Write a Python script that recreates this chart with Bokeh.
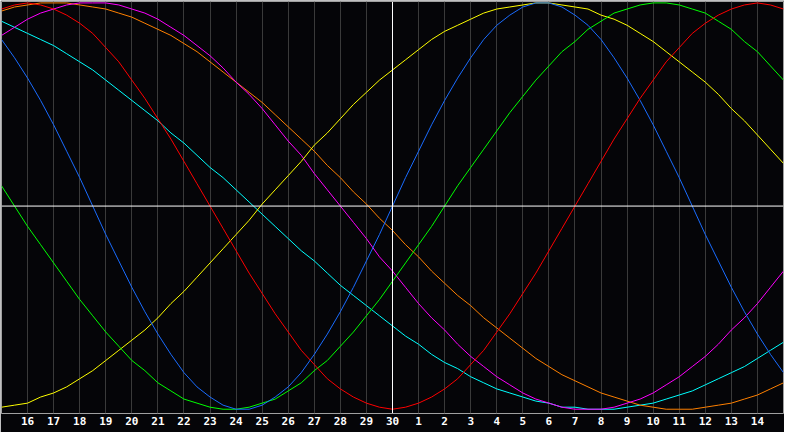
from bokeh.plotting import figure
from bokeh.models import Range1d, FixedTicker, Span
from bokeh.embed import file_html
from bokeh.resources import INLINE

# day labels for day positions 0..30 (15th of one month to 15th of the next)
day_labels = ["15", "16", "17", "18", "19", "20", "21", "22", "23", "24", "25", "26", "27", "28", "29", "30",
              "1", "2", "3", "4", "5", "6", "7", "8", "9", "10", "11", "12", "13", "14", "15"]
tick_positions = list(range(1, 30))
today_pos = 15
# values are read every half day
day_index = [i / 2 for i in range(61)]

# biorhythm values in percent (every half day)
physical = [82, 73, 63, 52, 40, 27, 14, 0, -14, -27, -40, -52, -63, -73, -82, -89, -94, -98, -100, -100,
            -98, -94, -89, -82, -73, -63, -52, -40, -27, -14, 0, 14, 27, 40, 52, 63, 73, 82, 89, 94,
            98, 100, 100, 98, 94, 89, 82, 73, 63, 52, 40, 27, 14, 0, -14, -27, -40, -52, -63, -73, -82]
emotional = [97, 99, 100, 99, 97, 94, 90, 85, 78, 71, 62, 53, 43, 33, 22, 11, 0, -11, -22, -33,
             -43, -53, -62, -71, -78, -85, -90, -94, -97, -99, -100, -99, -97, -94, -90, -85, -78, -71, -62, -53,
             -43, -33, -22, -11, 0, 11, 22, 33, 43, 53, 62, 71, 78, 85, 90, 94, 97, 99, 100, 99, 97]
intellectual = [10, 0, -10, -19, -28, -37, -46, -54, -62, -69, -76, -81, -87, -91, -95, -97, -99, -100, -100, -99,
                -97, -95, -91, -87, -81, -76, -69, -62, -54, -46, -37, -28, -19, -10, 0, 10, 19, 28, 37, 46,
                54, 62, 69, 76, 81, 87, 91, 95, 97, 99, 100, 100, 99, 97, 95, 91, 87, 81, 76, 69, 62]
intuitive = [84, 88, 92, 95, 97, 99, 100, 100, 100, 99, 97, 95, 92, 88, 84, 79, 74, 68, 61, 55,
             48, 40, 32, 25, 16, 8, 0, -8, -16, -25, -32, -40, -48, -55, -61, -68, -74, -79, -84, -88,
             -92, -95, -97, -99, -100, -100, -100, -99, -97, -95, -92, -88, -84, -79, -74, -68, -61, -55, -48, -40, -32]
aesthetic = [-99, -98, -97, -94, -92, -89, -85, -81, -76, -71, -66, -61, -55, -48, -42, -35, -28, -21, -14, -7,
             1, 8, 15, 22, 30, 36, 43, 50, 56, 62, 67, 72, 77, 82, 86, 89, 92, 95, 97, 98,
             99, 100, 100, 99, 98, 97, 94, 92, 89, 85, 81, 76, 71, 66, 61, 55, 48, 42, 35, 28, 21]
awareness = [96, 98, 99, 100, 100, 100, 99, 98, 97, 95, 93, 90, 87, 84, 80, 76, 71, 66, 61, 56,
             51, 45, 39, 33, 27, 20, 14, 7, 1, -6, -12, -19, -25, -32, -38, -44, -49, -55, -60, -65,
             -70, -75, -79, -83, -86, -89, -92, -94, -96, -98, -99, -100, -100, -100, -99, -98, -97, -95, -93, -90, -87]
spiritual = [91, 88, 85, 82, 79, 75, 71, 67, 62, 57, 52, 47, 42, 36, 31, 25, 19, 14, 8, 2,
             -4, -10, -16, -22, -27, -33, -39, -44, -49, -54, -59, -64, -68, -73, -77, -80, -84, -87, -90, -92,
             -94, -96, -97, -99, -99, -100, -100, -100, -99, -98, -97, -95, -93, -91, -88, -85, -82, -79, -75, -71, -67]

series = [
    (spiritual, "#00ffff"),
    (awareness, "#ff8000"),
    (intuitive, "#ff00ff"),
    (aesthetic, "#ffff00"),
    (intellectual, "#00ff00"),
    (physical, "#1a6cff"),
    (emotional, "#ff0000"),
]

p = figure(width=784, height=432, output_backend="svg", toolbar_location=None,
           x_range=Range1d(0, 30), y_range=Range1d(-102.1, 100.7),
           min_border_left=1, min_border_right=1, min_border_top=1, min_border_bottom=19)

p.background_fill_color = "#050508"
p.border_fill_color = "#050508"
p.outline_line_color = "#a0a0a0"
p.outline_line_width = 1

ticker = FixedTicker(ticks=tick_positions)
p.xaxis.ticker = ticker
p.xgrid.ticker = ticker
p.xaxis.major_label_overrides = {i: day_labels[i] for i in tick_positions}
p.xaxis.axis_line_color = None
p.xaxis.major_tick_line_color = None
p.xaxis.minor_tick_line_color = None
p.xaxis.major_tick_in = 0
p.xaxis.major_tick_out = 0
p.xaxis.major_label_standoff = 3
p.xaxis.major_label_text_color = "#ffffff"
p.xaxis.major_label_text_font = "DejaVu Sans Mono"
p.xaxis.major_label_text_font_size = "11px"
p.xaxis.major_label_text_font_style = "bold"

p.yaxis.visible = False
p.ygrid.visible = False
p.xgrid.grid_line_color = "#3a3a3a"
p.xgrid.grid_line_width = 1

p.add_layout(Span(location=today_pos, dimension="height", line_color="#ffffff", line_width=1))
p.add_layout(Span(location=0, dimension="width", line_color="#ffffff", line_width=1))

for vals, color in series:
    p.line(day_index, vals, line_color=color, line_width=1)

open("out.html", "w").write(file_html(p, INLINE))
